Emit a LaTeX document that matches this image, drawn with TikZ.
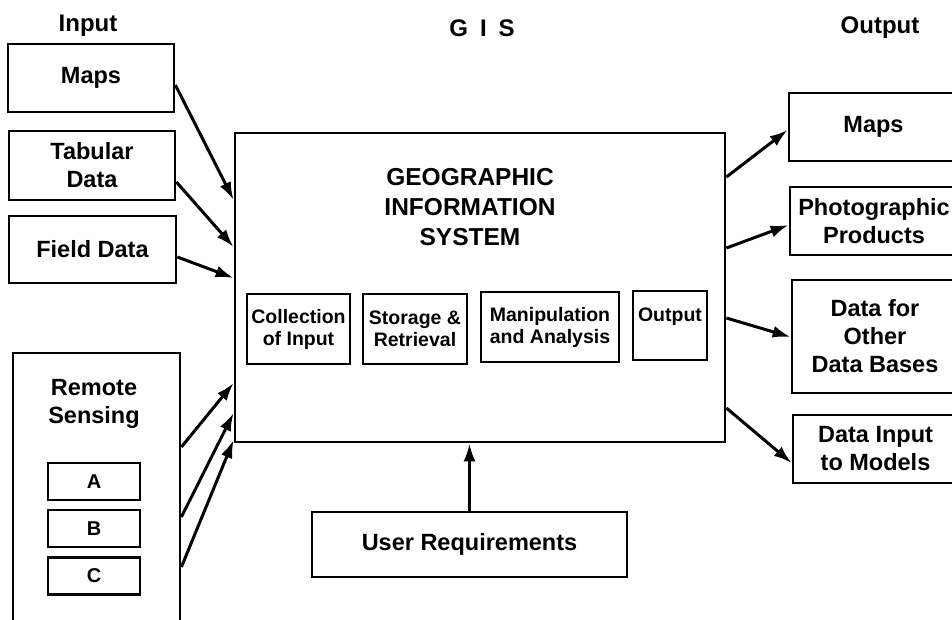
\documentclass[tikz,border=0pt]{standalone}
\usepackage{fontspec}
\setmainfont{Liberation Sans}
\usetikzlibrary{arrows.meta}
\tikzset{
  box/.style={draw, line width=2.8pt, inner sep=0pt, align=center, font=\bfseries\fontsize{23.5}{28}\selectfont},
  subbox/.style={draw, line width=2.8pt, inner sep=0pt, align=center, font=\bfseries\fontsize{19.5}{22}\selectfont},
  letterbox/.style={draw, line width=2.6pt, inner sep=0pt, font=\bfseries\fontsize{20}{22}\selectfont, minimum width=92pt, minimum height=37pt},
  head/.style={inner sep=0pt, font=\bfseries\fontsize{24}{28}\selectfont},
  arr/.style={line width=3pt, -{Latex[length=18pt,width=12pt]}}
}
\begin{document}
\begin{tikzpicture}[x=1pt,y=-1pt]
\path[use as bounding box] (0,0) rectangle (952,619);
% headers
\node[head] (hin) at (88,26) {Input};
\node[head] (hgis) at (482,28) {G\hspace{0.5em}I\hspace{0.5em}S};
\node[head] (hout) at (880,28) {Output};
% inputs
\node[box, minimum width=166pt, minimum height=68pt] (mapsin) at (91,78) {Maps};
\node[box, minimum width=166pt, minimum height=69pt] (tab) at (92,165.5) {Tabular\\Data};
\node[box, minimum width=167pt, minimum height=67pt] (field) at (92.5,249.5) {Field Data};
\node[box, minimum width=167pt, minimum height=277pt] (remote) at (96.5,491.5) {};
\node[box, draw=none] (remotelabel) at (94,404) {Remote\\Sensing};
\node[letterbox] (ra) at (94,481.5) {A};
\node[letterbox] (rb) at (94,528.5) {B};
\node[letterbox] (rc) at (94,576) {C};
% GIS
\node[box, minimum width=490pt, minimum height=309pt] (gis) at (480,287.5) {};
\node[inner sep=0pt, align=center, font=\bfseries\fontsize{24.5}{30}\selectfont] (gistitle) at (470,207) {GEOGRAPHIC\\INFORMATION\\SYSTEM};
\node[subbox, minimum width=103pt, minimum height=70pt] (coll) at (298.5,329) {Collection\\of Input};
\node[subbox, minimum width=104pt, minimum height=70pt] (stor) at (415,329) {Storage \&\\Retrieval};
\node[subbox, minimum width=138pt, minimum height=70pt] (manip) at (550,327) {Manipulation\\and Analysis};
\node[subbox, minimum width=74pt, minimum height=69pt] (outp) at (670,325.5) {Output\\\phantom{O}};
% outputs
\node[box, minimum width=169pt, minimum height=68pt] (mapsout) at (873.5,127) {Maps};
\node[box, minimum width=168pt, minimum height=68pt] (photo) at (874,221) {Photographic\\Products};
\node[box, minimum width=166pt, minimum height=113pt] (datafor) at (875,336.5) {Data for\\Other\\Data Bases};
\node[box, minimum width=165pt, minimum height=68pt] (datainput) at (875.5,449) {Data Input\\to Models};
% user
\node[box, minimum width=315pt, minimum height=65pt] (user) at (469.5,544.5) {User Requirements};
% input arrows
\draw[arr] (mapsin.east |- 0,85) -- (gis.west |- 0,200);
\draw[arr] (tab.east |- 0,182) -- (gis.west |- 0,247);
\draw[arr] (field.east |- 0,257) -- (gis.west |- 0,278);
\draw[arr] (remote.east |- 0,447) -- (gis.west |- 0,383);
\draw[arr] (remote.east |- 0,517) -- (gis.west |- 0,413);
\draw[arr] (remote.east |- 0,567) -- (gis.west |- 0,440);
% output arrows
\draw[arr] (gis.east |- 0,177) -- (mapsout.west |- 0,130);
\draw[arr] (gis.east |- 0,248) -- (photo.west |- 0,225);
\draw[arr] (gis.east |- 0,318) -- (datafor.west |- 0,337);
\draw[arr] (gis.east |- 0,408) -- (datainput.west |- 0,463);
% user arrow
\draw[arr] (user.north) -- (user.north |- gis.south);
\end{tikzpicture}
\end{document}
